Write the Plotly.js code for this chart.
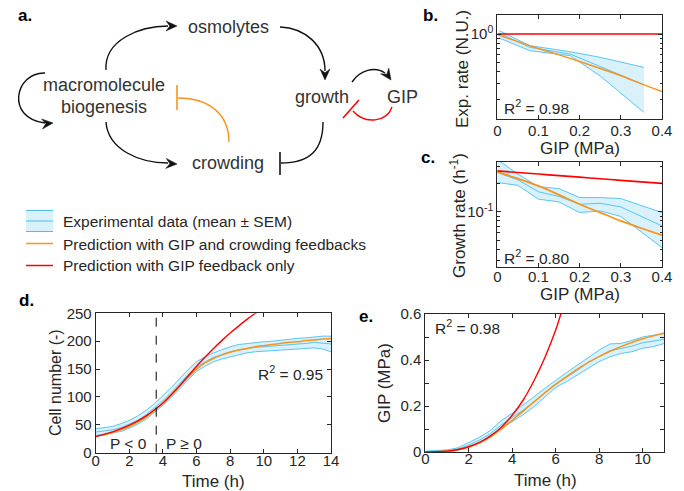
<!DOCTYPE html>
<html><head><meta charset="utf-8">
<script src="https://cdn.plot.ly/plotly-3.0.1.min.js"></script>
<style>html,body{margin:0;padding:0;background:#fff;}#chart{width:684px;height:491px;}</style>
</head><body><div id="chart"></div>
<script>
// ---------- Panel b: exponential rate vs GIP ----------
const bGip = [0.005, 0.079, 0.177, 0.25, 0.356];
const bMean = [1.016, 0.721, 0.612, 0.449, 0.289];
const bUpper = [1.085, 0.751, 0.649, 0.565, 0.442];
const bLower = [0.906, 0.665, 0.588, 0.357, 0.147];
const bFitGip = [0, 0.05, 0.1, 0.15, 0.2, 0.25, 0.3, 0.35, 0.4];
const bCrowd = [0.984, 0.83, 0.70, 0.60, 0.51, 0.43, 0.36, 0.295, 0.245];
const bGipOnly = [1, 1, 1, 1, 1, 1, 1, 1, 1];

// ---------- Panel c: growth rate vs GIP ----------
const cGip = [0, 0.05, 0.1, 0.15, 0.2, 0.25, 0.3, 0.4];
const cUpper = [0.36, 0.251, 0.185, 0.176, 0.1415, 0.1415, 0.138, 0.098];
const cMean = [0.261, 0.218, 0.163, 0.145, 0.120, 0.123, 0.1125, 0.0706];
const cLower = [0.204, 0.191, 0.136, 0.127, 0.098, 0.102, 0.089, 0.0416];
const cFitGip = [0, 0.05, 0.1, 0.15, 0.2, 0.25, 0.3, 0.35, 0.4];
const cCrowd = [0.265, 0.225, 0.188, 0.151, 0.12, 0.098, 0.0798, 0.0667, 0.0562];
const cGipOnly = [0.272, 0.2616, 0.2515, 0.2418, 0.2332, 0.2243, 0.2157, 0.2075, 0.2];

// ---------- Panel d: cell number vs time ----------
const dTime = [0,0.5,1,1.5,2,2.5,3,3.5,4,4.5,5,5.5,6,6.5,7,7.5,8,8.5,9,9.5,10,10.5,11,11.5,12,12.5,13,13.5,14];
const dMean = [37,39,41,45,51,58,68,80,93,108,124,140,154,163,171,176,181,184,187,189,190,191,192,193,195,196,198,197,195];
const dUpper = [43,45,47,52,58,66,76,88,102,117,133,149,163,172,179,185,190,194,196,198,199,200,202,203,205,206,208,209,209];
const dLower = [31,33,35,38,44,51,60,72,85,99,115,131,146,155,163,168,172,175,179,181,182,182,184,184,186,186,188,186,181];
const dCrowd = [29,32,36,41,47,55,64,76,89,104,120,136,150,161,169,175,180,184,187,190,192,194,196,198,199,201,202,204,205];
const dTimeRed = [0,0.5,1,1.5,2,2.5,3,3.5,4,4.5,5,5.5,6,6.5,7,7.5,8,8.5,9,9.5,10];
const dGipOnly = [28.7,33,37.5,43,49.5,57,66,77,89,104,120,137.5,155,171,186.5,201,214.5,227,239,250,260];
const dSwitchTime = 3.6;

// ---------- Panel e: GIP vs time ----------
const eTime = [0,0.5,1,1.5,2,2.5,3,3.5,4,4.5,5,5.5,6,6.5,7,7.5,8,8.5,9,9.5,10,10.5,11];
const eMean = [0,0.002,0.005,0.012,0.03,0.052,0.08,0.118,0.15,0.182,0.218,0.258,0.297,0.325,0.355,0.39,0.415,0.44,0.45,0.46,0.475,0.482,0.49];
const eUpper = [0.004,0.006,0.009,0.018,0.04,0.064,0.094,0.137,0.168,0.202,0.24,0.277,0.313,0.345,0.378,0.412,0.443,0.47,0.472,0.485,0.5,0.508,0.515];
const eLower = [0,0,0.001,0.007,0.021,0.041,0.067,0.102,0.132,0.162,0.197,0.24,0.281,0.306,0.334,0.364,0.393,0.414,0.428,0.436,0.451,0.458,0.472];
const eCrowd = [0,0.001,0.004,0.01,0.022,0.04,0.066,0.1,0.138,0.178,0.218,0.257,0.294,0.328,0.36,0.39,0.415,0.438,0.458,0.476,0.492,0.505,0.517];
const eTimeRed = [0,0.5,1,1.5,2,2.5,3,3.5,4,4.5,5,5.5,6,6.5];
const eGipOnly = [0,0.001,0.004,0.011,0.023,0.042,0.07,0.108,0.16,0.225,0.31,0.41,0.53,0.68];

// ---------- Text ----------
const legendLabels = ['Experimental data (mean ± SEM)', 'Prediction with GIP and crowding feedbacks', 'Prediction with GIP feedback only'];
const r2Labels = {b: 'R<sup>2</sup> = 0.98', c: 'R<sup>2</sup> = 0.80', d: 'R<sup>2</sup> = 0.95', e: 'R<sup>2</sup> = 0.98'};

// ---------- Styling ----------
const F = 'Liberation Sans, Arial, Helvetica, sans-serif';
const BLUE = '#4DBEEE', BAND = 'rgba(77,190,238,0.22)', ORANGE = '#F7941D', RED = '#FF0000';
const TXT = '#262626';
const W = 684, H = 491;
const dx = p => p / W, dy = p => 1 - p / H;

function band(x, lo, hi, mean, xa, ya) {
  return [
    {x: x, y: lo, xaxis: xa, yaxis: ya, mode: 'lines', line: {color: BLUE, width: 0.9}, hoverinfo: 'skip'},
    {x: x, y: hi, xaxis: xa, yaxis: ya, mode: 'lines', line: {color: BLUE, width: 0.9}, fill: 'tonexty', fillcolor: BAND, hoverinfo: 'skip'},
    {x: x, y: mean, xaxis: xa, yaxis: ya, mode: 'lines', line: {color: BLUE, width: 0.9}, hoverinfo: 'skip'}
  ];
}
function ln(x, y, xa, ya, color, w, dash) {
  return {x: x, y: y, xaxis: xa, yaxis: ya, mode: 'lines', line: {color: color, width: w, dash: dash || 'solid', shape: 'spline', smoothing: 0.6}, hoverinfo: 'skip'};
}

const traces = [].concat(
  band(bGip, bLower, bUpper, bMean, 'x', 'y'),
  [ln(bFitGip, bCrowd, 'x', 'y', ORANGE, 1.5), ln(bFitGip, bGipOnly, 'x', 'y', RED, 1.4)],
  band(cGip, cLower, cUpper, cMean, 'x2', 'y2'),
  [ln(cFitGip, cCrowd, 'x2', 'y2', ORANGE, 1.8), ln(cFitGip, cGipOnly, 'x2', 'y2', RED, 1.6)],
  band(dTime, dLower, dUpper, dMean, 'x3', 'y3'),
  [ln(dTime, dCrowd, 'x3', 'y3', ORANGE, 1.5), ln(dTimeRed, dGipOnly, 'x3', 'y3', RED, 1.4),
   ln([dSwitchTime, dSwitchTime], [0, 250], 'x3', 'y3', '#000', 1, 'dash')],
  band(eTime, eLower, eUpper, eMean, 'x4', 'y4'),
  [ln(eTime, eCrowd, 'x4', 'y4', ORANGE, 1.5), ln(eTimeRed, eGipOnly, 'x4', 'y4', RED, 1.4)],
  [{x: [], y: [], xaxis: 'x5', yaxis: 'y5', mode: 'lines', hoverinfo: 'skip'}]
);

const axBase = {showline: true, linecolor: TXT, linewidth: 1, mirror: 'ticks', ticks: 'inside', ticklen: 4,
  tickcolor: TXT, tickwidth: 1, tickfont: {family: F, size: 15, color: TXT}, zeroline: false, showgrid: false, fixedrange: true};
const ax = o => Object.assign({}, axBase, o);

const bx = [497.3, 662], by = [15, 119.3], cy = [161.7, 267.3];
const ddx = [95.7, 331], ddy = [313.3, 452.7];
const ex = [425.3, 664.3], ey = [314, 452];

const layout = {
  width: W, height: H, margin: {l: 0, r: 0, t: 0, b: 0}, paper_bgcolor: '#fff', plot_bgcolor: 'rgba(0,0,0,0)',
  showlegend: false, font: {family: F, color: TXT},
  xaxis: ax({domain: [dx(bx[0]), dx(bx[1])], range: [0, 0.4], dtick: 0.1, tick0: 0, anchor: 'y', ticklabelstandoff: -2}),
  yaxis: ax({domain: [dy(by[1]), dy(by[0])], type: 'log', range: [-0.907, 0.202], tickmode: 'array', tickvals: [1], ticktext: ['10<sup>0</sup>'], anchor: 'x',
    minor: {tickmode: 'array', tickvals: [0.2, 0.3, 0.4, 0.5, 0.6, 0.7, 0.8, 0.9], ticks: 'inside', ticklen: 2.5, tickcolor: TXT}}),
  xaxis2: ax({domain: [dx(bx[0]), dx(bx[1])], range: [0, 0.4], dtick: 0.1, tick0: 0, anchor: 'y2', ticklabelstandoff: -4}),
  yaxis2: ax({domain: [dy(cy[1]), dy(cy[0])], type: 'log', range: [-1.591, -0.468], tickmode: 'array', tickvals: [0.1], ticktext: ['10<sup>-1</sup>'], anchor: 'x2',
    minor: {tickmode: 'array', tickvals: [0.03, 0.04, 0.05, 0.06, 0.07, 0.08, 0.09, 0.2, 0.3], ticks: 'inside', ticklen: 2.5, tickcolor: TXT}}),
  xaxis3: ax({domain: [dx(ddx[0]), dx(ddx[1])], range: [0, 14], dtick: 2, tick0: 0, anchor: 'y3', ticklabelstandoff: -6}),
  yaxis3: ax({domain: [dy(ddy[1]), dy(ddy[0])], range: [0, 250], dtick: 50, tick0: 0, anchor: 'x3'}),
  xaxis4: ax({domain: [dx(ex[0]), dx(ex[1])], range: [0, 11], dtick: 2, tick0: 0, anchor: 'y4', ticklabelstandoff: -7}),
  yaxis4: ax({domain: [dy(ey[1]), dy(ey[0])], range: [0, 0.6], dtick: 0.2, tick0: 0, anchor: 'x4',
    minor: {dtick: 0.1, ticks: 'inside', ticklen: 4, tickcolor: TXT}}),
  xaxis5: {domain: [0, 1], range: [0, W], visible: false, fixedrange: true, anchor: 'y5'},
  yaxis5: {domain: [0, 1], range: [H, 0], visible: false, fixedrange: true, anchor: 'x5'},
  shapes: [], annotations: []
};

// ---- helpers in pixel space (overlay axis) ----
function path(d, color, w, fill) {
  layout.shapes.push({type: 'path', xref: 'x5', yref: 'y5', path: d, line: {color: color, width: w}, fillcolor: fill || 'rgba(0,0,0,0)', layer: 'above'});
}
function head(tx, ty, ang, color) {
  const a = ang * Math.PI / 180, ux = Math.cos(a), uy = Math.sin(a), px = -uy, py = ux;
  const L = 11, Wd = 5;
  const bxp = tx - L * ux, byp = ty - L * uy, nx = tx - 0.65 * L * ux, ny = ty - 0.65 * L * uy;
  const d = `M ${tx} ${ty} L ${bxp + Wd * px} ${byp + Wd * py} L ${nx} ${ny} L ${bxp - Wd * px} ${byp - Wd * py} Z`;
  layout.shapes.push({type: 'path', xref: 'x5', yref: 'y5', path: d, line: {color: color, width: 0.5}, fillcolor: color, layer: 'above'});
}
function text(t, x, y, opts) {
  layout.annotations.push(Object.assign({text: t, x: x, y: y, xref: 'x5', yref: 'y5', showarrow: false,
    xanchor: 'center', yanchor: 'middle', font: {family: F, size: 15, color: TXT}}, opts || {}));
}

// ---- Panel a diagram ----
const K = '#111';
path('M 106 70 C 104 40, 140 26, 168 26', K, 1.4); head(177, 26, 0, K);
path('M 280 27 C 305 28, 325 45, 325 71', K, 1.4); head(325, 80, 90, K);
path('M 106 122 C 108 150, 140 163, 168 163', K, 1.4); head(177, 164, 3, K);
path('M 323 122 C 323 150, 310 163, 281 163', K, 1.4); path('M 280 152 L 280 175', K, 1.6);
path('M 45 73 C 15 72, 5 118, 45 123', K, 1.4); head(53, 123, -5, K);
path('M 229 142 C 229 115, 210 98, 178 98', ORANGE, 1.4); path('M 177 85 L 177 110', ORANGE, 1.6);
path('M 352 82 C 360 70, 375 66, 385 73', K, 1.4); head(391, 80, 55, K);
path('M 392 107 C 387 122, 365 125, 353 111', RED, 1.4); path('M 343 118 L 359 100', RED, 1.6);

const DF = {family: F, size: 18, color: '#333'};
text('osmolytes', 228, 27, {font: DF});
text('macromolecule', 104, 85, {font: DF});
text('biogenesis', 104, 107, {font: DF});
text('growth', 322, 97, {font: DF});
text('GIP', 402, 97, {font: DF});
text('crowding', 228, 163, {font: DF});

// panel letters
const PL = {family: F, size: 17, color: '#000'};
text('<b>a.</b>', 25, 15, {font: PL});
text('<b>b.</b>', 430, 15, {font: PL});
text('<b>c.</b>', 428, 157, {font: PL});
text('<b>d.</b>', 26, 300, {font: PL});
text('<b>e.</b>', 366, 316, {font: PL});

// axis titles
const AT = {family: F, size: 17, color: TXT};
text('Exp. rate (N.U.)', 462, 69, {font: AT, textangle: -90});
text('GIP (MPa)', 580, 148, {font: AT});
text('Growth rate (h<sup>-1</sup>)', 458, 216, {font: AT, textangle: -90});
text('GIP (MPa)', 580, 294, {font: AT});
text('Cell number (-)', 55, 383, {font: {family: F, size: 16, color: TXT}, textangle: -90});
text('Time (h)', 213, 481, {font: AT});
text('GIP (MPa)', 384, 383, {font: AT, textangle: -90});
text('Time (h)', 545, 480, {font: AT});

// in-plot texts
const RT = {family: F, size: 15.5, color: TXT};
text(r2Labels.b, 502, 107, {font: RT, xanchor: 'left'});
text(r2Labels.c, 502, 257, {font: RT, xanchor: 'left'});
text(r2Labels.d, 325, 373, {font: RT, xanchor: 'right'});
text(r2Labels.e, 433, 327, {font: RT, xanchor: 'left'});
text('P &lt; 0', 128, 443, {font: RT});
text('P ≥ 0', 184, 443, {font: RT});

// legend
layout.shapes.push({type: 'rect', xref: 'x5', yref: 'y5', x0: 26, x1: 53, y0: 210, y1: 232, fillcolor: BAND, line: {width: 0}, layer: 'above'});
path('M 26 210.5 L 53 210.5', BLUE, 1); path('M 26 221 L 53 221', BLUE, 1); path('M 26 231.5 L 53 231.5', BLUE, 1);
path('M 26 243.5 L 53 243.5', ORANGE, 1.5);
path('M 26 265.5 L 53 265.5', RED, 1.5);
text(legendLabels[0], 61, 221.5, {font: RT, xanchor: 'left'});
text(legendLabels[1], 61, 244.5, {font: RT, xanchor: 'left'});
text(legendLabels[2], 61, 265.5, {font: RT, xanchor: 'left'});

Plotly.newPlot('chart', traces, layout, {staticPlot: true, displayModeBar: false});
</script>
</body></html>
